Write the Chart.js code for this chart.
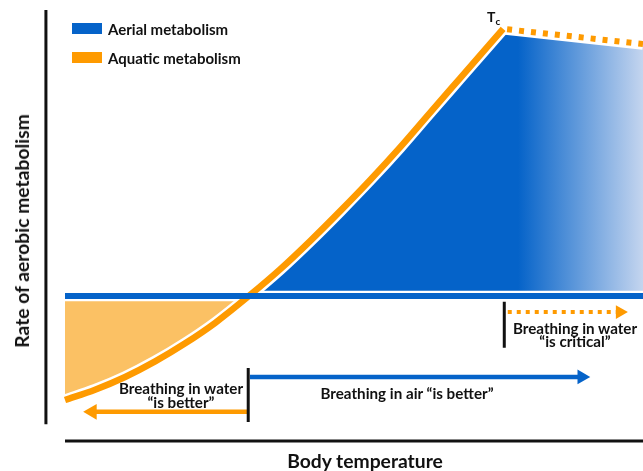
<!DOCTYPE html>
<html>
<head>
<meta charset="utf-8">
<script src="https://cdn.jsdelivr.net/npm/chart.js@4.4.1/dist/chart.umd.min.js"></script>
<style>
  html, body { margin: 0; padding: 0; background: #fff; }
  #wrap {
    position: relative; width: 643px; height: 471px; overflow: hidden;
    font-family: Lato, "Open Sans", sans-serif; font-weight: 700; color: #111;
  }
  #wrap canvas { position: absolute; left: 0; top: 0; }
  .lbl { position: absolute; white-space: nowrap; text-align: center; transform: translate(-50%, -50%); }
  .note { font-size: 15.2px; line-height: 14px; }
  .legend-text { position: absolute; left: 108px; font-size: 15px; line-height: 16px; transform: translateY(-50%); }
  .swatch { position: absolute; left: 72px; width: 30px; height: 11px; }
  .title { font-size: 19.3px; line-height: 20px; }
  #tc { position: absolute; left: 487px; top: 10px; font-size: 14px; line-height: 14px; }
  #tc sub { font-size: 10px; vertical-align: -3px; line-height: 0; }
</style>
</head>
<body>
<div id="wrap">
  <canvas id="chart" width="643" height="471"></canvas>

  <div class="swatch" style="top:23px; background:#0563c9"></div>
  <div class="legend-text" style="top:29px">Aerial metabolism</div>
  <div class="swatch" style="top:52px; background:#fe9a00"></div>
  <div class="legend-text" style="top:58px">Aquatic metabolism</div>

  <div id="tc">T<sub>c</sub></div>

  <div class="lbl note" style="left:181px; top:395px">Breathing in water<br>“is better”</div>
  <div class="lbl note" style="left:407px; top:393px">Breathing in air “is better”</div>
  <div class="lbl note" style="left:575px; top:335px; line-height:13px">Breathing in water<br>“is critical”</div>

  <div class="lbl title" style="left:365px; top:461px">Body temperature</div>
  <div class="lbl title" style="left:22px; top:231px; transform: translate(-50%, -50%) rotate(-90deg)">Rate of aerobic metabolism</div>
</div>

<script>
const BLUE = "#0563c9";
const BLUE_PALE = "#c4d5ef";
const ORANGE = "#fe9a00";
const ORANGE_PALE = "#fbc164";
const INK = "#111111";

// body temperature on x, rate of aerobic metabolism on y (arbitrary units)
const AQUATIC_X = [0, 5.2, 10.4, 15.6, 20.8, 26.0, 31.8, 37.2, 42.4, 47.6, 52.8, 58.0, 63.1, 68.3, 75.8];
const AQUATIC_Y = [10.0, 12.5, 15.6, 19.4, 23.8, 28.8, 35.3, 41.8, 48.7, 56.0, 63.6, 71.6, 79.9, 88.3, 100.4];
// beyond the critical temperature Tc
const TAIL_X = [75.8, 100];
const TAIL_Y = [100.4, 96.7];

const BASELINE_X = [0, 100];
const BASELINE_Y = [35.3, 35.3];
const CROSS_X = 31.8;
const FADE_FROM = 78.4;

const AIR_ARROW_X = [32.0, 89.4];
const AIR_ARROW_Y = [15.6, 15.6];
const WATER_ARROW_X = [31.7, 4.7];
const WATER_ARROW_Y = [7.1, 7.1];
const CRITICAL_ARROW_X = [76.6, 96.0];
const CRITICAL_ARROW_Y = [31.4, 31.4];

const TICK_LEFT_X = [31.7, 31.7];
const TICK_LEFT_Y = [17.8, 4.6];
const TICK_RIGHT_X = [76.0, 76.0];
const TICK_RIGHT_Y = [33.9, 22.7];

const Y_AXIS_X = [-3.3, -3.3];
const Y_AXIS_Y = [105, 4.1];
const X_AXIS_X = [0, 100];
const X_AXIS_Y = [0, 0];

const pts = (xs, ys) => xs.map((x, i) => ({ x, y: ys[i] }));

const aquatic = pts(AQUATIC_X, AQUATIC_Y);
const tail = pts(TAIL_X, TAIL_Y);
const waterSide = aquatic.filter((p) => p.x <= CROSS_X);
const airSide = aquatic.filter((p) => p.x >= CROSS_X).concat(tail.slice(1));

function line(data, color, width, order, extra = {}) {
  return {
    data,
    borderColor: color,
    borderWidth: width,
    borderCapStyle: "butt",
    pointRadius: 0,
    fill: false,
    tension: 0,
    clip: false,
    order,
    ...extra,
  };
}

function arrow(xs, ys, color, width, head, dir, extra = {}) {
  return line(pts(xs, ys), color, width, 5, {
    pointRadius: [0, head],
    pointStyle: "triangle",
    rotation: [0, dir],
    pointBackgroundColor: color,
    pointBorderWidth: 0,
    ...extra,
  });
}

function blueFade(ctx) {
  const chart = ctx.chart;
  if (!chart.chartArea) return BLUE;
  const x0 = chart.scales.x.getPixelForValue(FADE_FROM);
  const g = chart.ctx.createLinearGradient(x0, 0, chart.chartArea.right, 0);
  g.addColorStop(0, BLUE);
  g.addColorStop(1, BLUE_PALE);
  return g;
}

const datasets = [
  // fills between the aquatic curve and the aerial baseline
  line(waterSide, ORANGE_PALE, 0, 10, {
    fill: { value: BASELINE_Y[0] }, backgroundColor: ORANGE_PALE,
    cubicInterpolationMode: "monotone",
  }),
  line(airSide, BLUE, 0, 10, { fill: { value: BASELINE_Y[0] }, backgroundColor: blueFade }),

  // white halos
  line(pts(BASELINE_X, BASELINE_Y), "#ffffff", 10.5, 9),
  line(aquatic, "#ffffff", 11.5, 8, { cubicInterpolationMode: "monotone" }),
  line(tail, "#ffffff", 11.5, 8),

  // aquatic curve
  line(aquatic, ORANGE, 6.5, 7, { cubicInterpolationMode: "monotone" }),
  line(tail, ORANGE, 6, 7, { borderDash: [5, 7], borderDashOffset: 8 }),

  // aerial baseline
  line(pts(BASELINE_X, BASELINE_Y), BLUE, 6, 6),

  // axes
  line(pts(Y_AXIS_X, Y_AXIS_Y), INK, 3, 5),
  line(pts(X_AXIS_X, X_AXIS_Y), INK, 3, 5),

  // zone markers
  line(pts(TICK_LEFT_X, TICK_LEFT_Y), INK, 3, 5),
  line(pts(TICK_RIGHT_X, TICK_RIGHT_Y), INK, 3, 5),
  arrow(AIR_ARROW_X, AIR_ARROW_Y, BLUE, 4.5, 8.5, 90),
  arrow(WATER_ARROW_X, WATER_ARROW_Y, ORANGE, 4.5, 9, -90),
  arrow(CRITICAL_ARROW_X, CRITICAL_ARROW_Y, ORANGE, 4, 8, 90, { borderDash: [4, 5] }),
];

new Chart(document.getElementById("chart"), {
  type: "line",
  data: { datasets },
  options: {
    responsive: false,
    devicePixelRatio: 1,
    animation: false,
    events: [],
    layout: { autoPadding: false, padding: { left: 65, right: 0, top: 10, bottom: 30 } },
    scales: {
      x: { type: "linear", min: 0, max: 100, display: false },
      y: { type: "linear", min: 0, max: 105, display: false },
    },
    plugins: {
      legend: { display: false },
      tooltip: { enabled: false },
    },
  },
});
</script>
</body>
</html>
